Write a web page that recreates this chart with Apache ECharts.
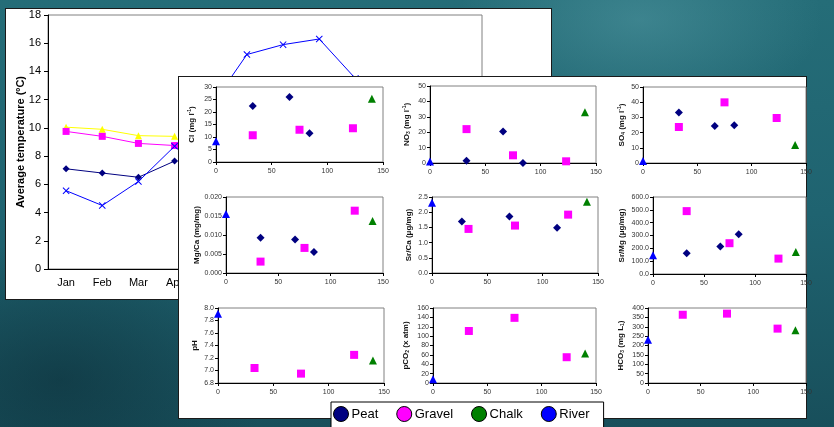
<!DOCTYPE html>
<html>
<head>
<meta charset="utf-8">
<script src="https://cdn.jsdelivr.net/npm/echarts/dist/echarts.min.js"></script>
<style>
  html, body { margin: 0; padding: 0; width: 834px; height: 427px; overflow: hidden; }
  body {
    position: relative;
    background:
      radial-gradient(ellipse 260px 140px at 640px 20px, rgba(90,160,170,0.45), rgba(90,160,170,0) 70%),
      radial-gradient(ellipse 300px 200px at 60px 380px, rgba(10,40,50,0.5), rgba(10,40,50,0) 70%),
      linear-gradient(180deg, #256d78 0%, #1f6370 50%, #184f5b 100%);
  }
  .panel { position: absolute; background: #fff; border: 1px solid #1a1a1a; box-sizing: border-box; }
  .chart { position: absolute; left: 0; top: 0; width: 834px; height: 427px; }
</style>
</head>
<body>
<div class="panel" style="left:5px;top:8px;width:547px;height:292px"></div>
<div id="c1" class="chart"></div>
<div class="panel" style="left:178px;top:76px;width:629px;height:343px"></div>
<div id="c2" class="chart"></div>
<script>
// monthly temperatures (hidden months left empty)
var months = ["Jan", "Feb", "Mar", "Apr", "May", "Jun", "Jul", "Aug", "Sep", "Oct", "Nov", "Dec"];
var tempYellow = [10.05, 9.9, 9.45, 9.4, null, null, null, null, null, null, null, null];
var tempMagenta = [9.75, 9.4, 8.9, 8.75, null, null, null, null, null, null, null, null];
var tempNavy = [7.1, 6.8, 6.5, 7.65, null, null, null, null, null, null, null, null];
var tempBlue = [5.55, 4.5, 6.2, 8.7, 11.5, 15.2, 15.9, 16.3, 13.5, null, null, null];

// distance (x) of the sites
var xPeat = [33, 66, 84];
var xPeatSrCa = [27, 70, 113];
var xGravel = [33, 75, 123];
var xChalk = [140];
var xRiver = [0];

var clPeat = [22.4, 26, 11.5], clGravel = [10.7, 12.9, 13.5], clChalk = [25.3], clRiver = [8.3];
var no3Peat = [1.5, 20.4, 0], no3Gravel = [22, 5, 1.1], no3Chalk = [33], no3River = [1];
var so4Peat = [33.3, 24.3, 24.8], so4Gravel = [23.7, 39.9, 29.6], so4Chalk = [11.8], so4River = [1.3];
var mgcaPeat = [0.0093, 0.0088, 0.0055], mgcaGravel = [0.0030, 0.0066, 0.0164], mgcaChalk = [0.0137], mgcaRiver = [0.0155];
var srcaPeat = [1.69, 1.86, 1.49], srcaGravel = [1.45, 1.56, 1.92], srcaChalk = [2.34], srcaRiver = [2.31];
var srmgPeat = [162, 214, 310], srmgGravel = [490, 240, 120], srmgChalk = [172], srmgRiver = [146];
var phGravel = [7.04, 6.95, 7.25], phChalk = [7.16], phRiver = [7.91];
var pco2Gravel = [111, 139, 55], pco2Chalk = [63], pco2River = [8];
var hco3Gravel = [364, 370, 290], hco3Chalk = [281], hco3River = [231];

var FONT = "Liberation Sans";
var xMark = "path://M0,1L1,0L5,4L9,0L10,1L6,5L10,9L9,10L5,6L1,10L0,9L4,5Z";

// ---------- temperature chart ----------
var c1 = echarts.init(document.getElementById("c1"));
function tempLine(data, color, symbol) {
  return {
    type: "line", data: data, color: color, symbol: symbol, symbolSize: 7,
    lineStyle: { color: color, width: 1 }, itemStyle: { color: color, opacity: 1 },
    connectNulls: false, animation: false
  };
}
c1.setOption({
  textStyle: { fontFamily: FONT },
  grid: { left: 48, top: 15, width: 434, height: 254, show: true, borderColor: "#808080", borderWidth: 1, outerBoundsMode: "none" },
  xAxis: {
    type: "category", data: months, boundaryGap: true,
    axisLine: { lineStyle: { color: "#000" } },
    axisTick: { length: 4, lineStyle: { color: "#000" } },
    axisLabel: { color: "#000", fontSize: 11, margin: 8, fontFamily: FONT, interval: 0 }
  },
  yAxis: {
    type: "value", min: 0, max: 18, interval: 2,
    name: "Average temperature (ºC)", nameLocation: "middle", nameGap: 22, nameRotate: 90,
    nameMoveOverlap: false,
    nameTextStyle: { color: "#000", fontSize: 11, fontWeight: "bold", fontFamily: FONT },
    axisLine: { show: true, lineStyle: { color: "#000" } },
    axisTick: { show: true, length: 4, lineStyle: { color: "#000" } },
    axisLabel: { color: "#000", fontSize: 11, margin: 7, fontFamily: FONT },
    splitLine: { show: false }
  },
  series: [
    tempLine(tempYellow, "#ffff00", "triangle"),
    tempLine(tempMagenta, "#ff00ff", "rect"),
    tempLine(tempNavy, "#000080", "diamond"),
    tempLine(tempBlue, "#0000ff", xMark)
  ]
});

// ---------- scatter panels ----------
var panels = [
  { name: "{b|Cl (mg l}{s|-1}{b|)}", box: [216, 87, 167, 75], min: 0, max: 30, step: 5, dec: 0, gap: 20,
    peat: clPeat, gravel: clGravel, chalk: clChalk, river: clRiver },
  { name: "{b|NO}{d|3}{b| (mg l}{s|-1}{b|)}", box: [430, 86, 166, 77], min: 0, max: 50, step: 10, dec: 0, gap: 19,
    peat: no3Peat, gravel: no3Gravel, chalk: no3Chalk, river: no3River },
  { name: "{b|SO}{d|4}{b| (mg l}{s|-1}{b|)}", box: [643, 87, 163, 76], min: 0, max: 50, step: 10, dec: 0, gap: 17,
    peat: so4Peat, gravel: so4Gravel, chalk: so4Chalk, river: so4River },
  { name: "{b|Mg/Ca (mg/mg)}", box: [226, 197, 157, 76], min: 0, max: 0.02, step: 0.005, dec: 3, gap: 25,
    peat: mgcaPeat, gravel: mgcaGravel, chalk: mgcaChalk, river: mgcaRiver },
  { name: "{b|Sr/Ca (μg/mg)}", box: [432, 197, 166, 76], min: 0, max: 2.5, step: 0.5, dec: 1, gap: 19,
    peat: srcaPeat, peatX: xPeatSrCa, gravel: srcaGravel, chalk: srcaChalk, river: srcaRiver },
  { name: "{b|Sr/Mg (μg/mg)}", box: [653, 197, 153, 77], min: 0, max: 600, step: 100, dec: 1, gap: 27,
    peat: srmgPeat, gravel: srmgGravel, chalk: srmgChalk, river: srmgRiver },
  { name: "{b|pH}", box: [218, 308, 166, 75], min: 6.8, max: 8.0, step: 0.2, dec: 1, gap: 19,
    gravel: phGravel, chalk: phChalk, river: phRiver },
  { name: "{b|pCO}{d|2}{b| (x atm)}", box: [433, 308, 163, 75], min: 0, max: 160, step: 20, dec: 0, gap: 23,
    gravel: pco2Gravel, chalk: pco2Chalk, river: pco2River },
  { name: "{b|HCO}{d|3}{b| (mg L}{d|1}{b|)}", box: [648, 308, 158, 75], min: 0, max: 400, step: 50, dec: 0, gap: 23,
    gravel: hco3Gravel, chalk: hco3Chalk, river: hco3River }
];

var groups = [
  { key: "peat", name: "Peat", color: "#000080", symbol: "diamond", size: 8 },
  { key: "gravel", name: "Gravel", color: "#ff00ff", symbol: "rect", size: 8 },
  { key: "chalk", name: "Chalk", color: "#008000", symbol: "triangle", size: 8 },
  { key: "river", name: "River", color: "#0000ff", symbol: "triangle", size: 8 }
];

var grids = [], xAxes = [], yAxes = [], series = [];
var tickFont = { color: "#333", fontSize: 7, fontFamily: FONT };
panels.forEach(function (p, i) {
  grids.push({ left: p.box[0], top: p.box[1], width: p.box[2], height: p.box[3],
    show: true, borderColor: "#808080", borderWidth: 1, outerBoundsMode: "none" });
  xAxes.push({
    gridIndex: i, type: "value", min: 0, max: 150, interval: 50,
    axisLine: { onZero: false, lineStyle: { color: "#000" } },
    axisTick: { show: true, length: 3, lineStyle: { color: "#000" } },
    axisLabel: Object.assign({ margin: 6 }, tickFont),
    splitLine: { show: false }
  });
  yAxes.push({
    gridIndex: i, type: "value", min: p.min, max: p.max, interval: p.step,
    name: p.name, nameLocation: "middle", nameRotate: 90, nameGap: p.gap,
    nameTextStyle: {
      rich: {
        b: { fontSize: 8, fontWeight: "bold", color: "#111", fontFamily: FONT },
        s: { fontSize: 5, fontWeight: "bold", color: "#111", fontFamily: FONT, verticalAlign: "top", padding: [0, 0, 4, 0] },
        d: { fontSize: 5, fontWeight: "bold", color: "#111", fontFamily: FONT, verticalAlign: "bottom", padding: [4, 0, 0, 0] }
      }
    },
    axisLine: { show: true, onZero: false, lineStyle: { color: "#000" } },
    axisTick: { show: true, length: 3, lineStyle: { color: "#000" } },
    axisLabel: Object.assign({ margin: 4, formatter: (function (d) { return function (v) { return v.toFixed(d); }; })(p.dec) }, tickFont),
    splitLine: { show: false }
  });
  groups.forEach(function (g) {
    var ys = p[g.key];
    if (!ys) return;
    var xs = g.key === "peat" ? (p.peatX || xPeat) : g.key === "gravel" ? xGravel : g.key === "chalk" ? xChalk : xRiver;
    series.push({
      name: g.name, type: "scatter", xAxisIndex: i, yAxisIndex: i,
      data: ys.map(function (y, k) { return [xs[k], y]; }),
      symbol: g.symbol, symbolSize: g.size, itemStyle: { color: g.color, opacity: 1 },
      clip: false, animation: false
    });
  });
});

var c2 = echarts.init(document.getElementById("c2"));
c2.setOption({
  textStyle: { fontFamily: FONT },
  grid: grids, xAxis: xAxes, yAxis: yAxes, series: series,
  legend: {
    data: groups.map(function (g) { return g.name; }),
    left: 331, top: 402, orient: "horizontal",
    icon: "circle", itemWidth: 17, itemHeight: 15, itemGap: 18,
    padding: [4, 14, 20, 2],
    backgroundColor: "#fff", borderColor: "#000", borderWidth: 1,
    itemStyle: { borderColor: "#000", borderWidth: 1, opacity: 1 },
    textStyle: { color: "#000", fontSize: 13, fontFamily: FONT, padding: [0, 0, 0, -3] },
    selectedMode: false
  }
});
</script>
</body>
</html>
